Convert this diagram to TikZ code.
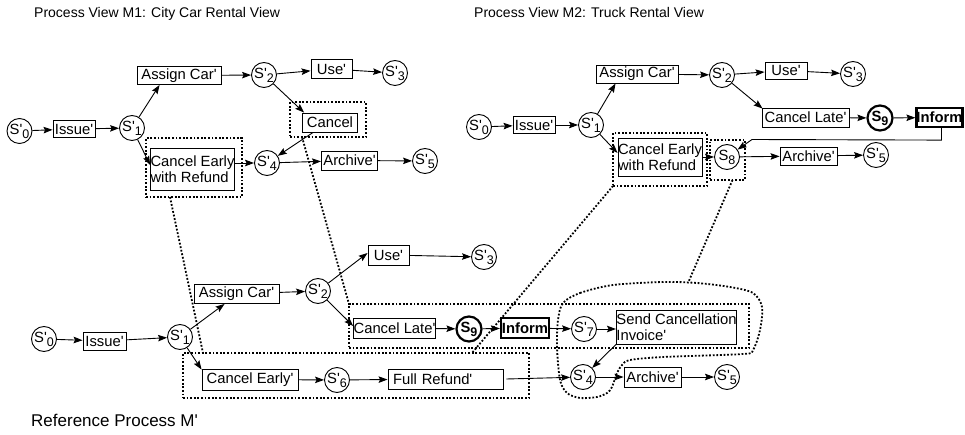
\documentclass[tikz,border=0pt]{standalone}
\usepackage{fontspec}
\setmainfont{Liberation Sans}[Ligatures=TeXOff]
\usetikzlibrary{arrows.meta,calc}

% state label: S, optional prime, lowered index
\newcommand\stname[2]{\makebox[0pt][c]{S#1\raisebox{-4pt}{\fontsize{12.5}{12.5}\selectfont#2}}}

\begin{document}
\begin{tikzpicture}[x=1pt,y=-1pt,
  lab/.style={font=\fontsize{14.8}{16}\selectfont},
  task/.style={draw, line width=0.9pt, inner sep=0pt, lab},
  state/.style={draw, circle, line width=0.9pt, minimum size=25pt, inner sep=0pt, lab},
  heavy/.style={line width=2.2pt},
  grpline/.style={line width=1.8pt, dash pattern=on 1.8pt off 1.8pt},
  grp/.style={grpline, draw, inner sep=0pt, outer sep=0pt},
  flow/.style={line width=0.9pt, -{Stealth[length=9pt,width=6.5pt,inset=1.5pt]}},
  title/.style={anchor=base west, inner sep=0pt, font=\fontsize{14}{16}\selectfont}]
\useasboundingbox (0,0) rectangle (965,435);

% headings
\node[title] (t1) at (34,18) {Process View M1: City Car Rental View};
\node[title] (t2) at (474,18) {Process View M2: Truck Rental View};
\node[title, font=\fontsize{17}{19}\selectfont] (t3) at (31,426) {Reference Process M'};

% ---------- dotted correspondence groups ----------
\node[grp, minimum width=76pt, minimum height=35pt] (m1gcancel) at (328,119.5) {};
\node[grp, minimum width=96pt, minimum height=59pt] (m1gcewr) at (194,167.5) {};
\node[grp, minimum width=94pt, minimum height=53pt] (m2gcewr) at (660,159.5) {};
\node[grp, minimum width=35pt, minimum height=40pt] (m2gs8) at (727.5,160) {};
\node[grp, minimum width=346pt, minimum height=45pt] (rglow) at (356,375.5) {};
\node[grp, minimum width=400pt, minimum height=44pt] (rgup) at (549,326) {};
\draw[grpline] plot[smooth cycle, tension=0.5] coordinates {(563,303) (580,293) (613,285) (663,282) (697,283) (730,287) (753,293) (762,307) (760,330) (753,350) (743,354) (663,357) (630,360) (622,365) (617,373) (612,387) (607,393) (597,397) (580,398) (567,393) (560,380) (557,347) (558,320)};
\coordinate (blobtop) at (688,283);

\draw[grpline] ($(m1gcewr.south west)+(24,0)$) -- ($(rglow.north west)+(20,0)$);
\draw[grpline] ($(m1gcancel.south west)+(12,0)$) -- (rgup.north west);
\draw[grpline] (m2gcewr.south west) -- ($(rglow.north east)+(-57,0)$);
\draw[grpline] ($(m2gs8.south)+(5,0)$) -- (blobtop);

% ---------- process view M1 ----------
\node[state] (m1s0) at (19.5,131) {\stname{'}{0}};
\node[task, minimum width=42pt, minimum height=17pt] (m1issue) at (74,129) {Issue'};
\node[state] (m1s1) at (132,128) {\stname{'}{1}};
\node[task, minimum width=84pt, minimum height=18pt] (m1assign) at (179,75.5) {Assign Car'};
\node[state] (m1s2) at (264,75) {\stname{'}{2}};
\node[task, minimum width=41pt, minimum height=19pt] (m1use) at (331.5,69) {Use'};
\node[state] (m1s3) at (395,73) {\stname{'}{3}};
\node[task, minimum width=55pt, minimum height=19pt] (m1cancel) at (330,122.5) {Cancel};
\node[task, minimum width=81pt, minimum height=42pt, align=left] (m1cewr) at (192.5,169) {Cancel Early\\with Refund};
\node[state] (m1s4) at (267,163) {\stname{'}{4}};
\node[task, minimum width=56pt, minimum height=19pt] (m1archive) at (349.5,160.5) {Archive'};
\node[state] (m1s5) at (425,161) {\stname{'}{5}};

\draw[flow] (m1s0) -- (m1issue);
\draw[flow] (m1issue) -- (m1s1);
\draw[flow] (m1s1) -- ($(m1assign.south west)+(23,0)$);
\draw[flow] (m1assign) -- (m1s2);
\draw[flow] (m1s2) -- (m1use);
\draw[flow] (m1use) -- (m1s3);
\draw[flow] (m1s2) -- ($(m1cancel.north west)+(2,0)$);
\draw[flow] (m1s1) -- ($(m1cewr.west)+(0,-4)$);
\draw[flow] (m1cewr.east |- m1s4) -- (m1s4);
\draw[flow] ($(m1cancel.south west)+(11,0)$) -- (m1s4);
\draw[flow] (m1s4) -- (m1archive);
\draw[flow] (m1archive) -- (m1s5);

% ---------- process view M2 ----------
\node[state] (m2s0) at (479,127) {\stname{'}{0}};
\node[task, minimum width=42pt, minimum height=17pt] (m2issue) at (534,125) {Issue'};
\node[state] (m2s1) at (591,125) {\stname{'}{1}};
\node[task, minimum width=82pt, minimum height=18pt] (m2assign) at (637,74) {Assign Car'};
\node[state] (m2s2) at (722,75) {\stname{'}{2}};
\node[task, minimum width=42pt, minimum height=17pt] (m2use) at (786,70.5) {Use'};
\node[state] (m2s3) at (853,74) {\stname{'}{3}};
\node[task, minimum width=87pt, minimum height=19pt] (m2late) at (805.5,117.5) {Cancel Late'};
\node[state, heavy] (m2s9) at (880,118) {\bfseries\stname{}{9}};
\node[task, heavy, minimum width=46pt, minimum height=19pt] (m2inform) at (939.5,117.5) {\bfseries Inform};
\node[task, minimum width=84pt, minimum height=38pt, align=left] (m2cewr) at (660,157) {Cancel Early\\with Refund};
\node[state] (m2s8) at (727,157) {\stname{}{8}};
\node[task, minimum width=57pt, minimum height=18pt] (m2archive) at (808.5,156) {Archive'};
\node[state] (m2s5) at (876,155) {\stname{'}{5}};
\coordinate (m2kink) at (752,139.5);

\draw[flow] (m2s0) -- (m2issue);
\draw[flow] (m2issue) -- (m2s1);
\draw[flow] (m2s1) -- ($(m2assign.south west)+(20,0)$);
\draw[flow] (m2assign) -- (m2s2);
\draw[flow] (m2s2) -- (m2use);
\draw[flow] (m2use) -- (m2s3);
\draw[flow] (m2s2) -- ($(m2late.north west)+(1,1)$);
\draw[flow] (m2late) -- (m2s9);
\draw[flow] (m2s9) -- (m2inform);
\draw[flow] (m2s1) -- ($(m2cewr.west)+(0,-4)$);
\draw[flow] (m2cewr.east |- m2s8) -- (m2s8);
\draw[flow] (m2s8) -- (m2archive);
\draw[flow] (m2archive) -- (m2s5);
\draw[flow] ($(m2inform.south)+(2,0)$) -- ++(0,12) -- (m2kink) -- (m2s8);

% ---------- reference process M' ----------
\node[state] (rs0) at (44,339) {\stname{'}{0}};
\node[task, minimum width=43pt, minimum height=18pt] (rissue) at (104.5,341) {Issue'};
\node[state] (rs1) at (180,337) {\stname{'}{1}};
\node[task, minimum width=85pt, minimum height=19pt] (rassign) at (236.5,294) {Assign Car'};
\node[state] (rs2) at (318,291) {\stname{'}{2}};
\node[task, minimum width=41pt, minimum height=20pt] (ruse) at (388.5,255) {Use'};
\node[state] (rs3) at (484,257) {\stname{'}{3}};
\node[task, minimum width=77pt, minimum height=20pt] (rlate) at (394.5,328) {Cancel Late'};
\node[state, heavy] (rs9) at (469,329) {\bfseries\stname{}{9}};
\node[task, heavy, minimum width=48pt, minimum height=20pt] (rinform) at (525,328) {\bfseries Inform};
\node[state] (rs7) at (584,329) {\stname{'}{7}};
\node[task, minimum width=117pt, minimum height=34pt, align=left] (rsend) at (676.5,327) {Send Cancellation\\Invoice'};
\node[task, minimum width=96pt, minimum height=21pt] (rcearly) at (250,379.5) {Cancel Early'};
\node[state] (rs6) at (337,380) {\stname{'}{6}};
\node[task, minimum height=20pt, text width=105pt, inner xsep=5pt, align=left] (rfull) at (445.5,379) {Full Refund'};
\node[state] (rs4) at (583,377) {\stname{'}{4}};
\node[task, minimum width=57pt, minimum height=20pt] (rarchive) at (652.5,377) {Archive'};
\node[state] (rs5) at (727,377) {\stname{'}{5}};

\draw[flow] (rs0) -- (rissue);
\draw[flow] (rissue) -- (rs1);
\draw[flow] (rs1) -- ($(rassign.south west)+(31,0)$);
\draw[flow] (rs1) -- ($(rcearly.north west)+(0,1)$);
\draw[flow] (rassign) -- (rs2);
\draw[flow] (rs2) -- ($(ruse.west)+(0,-2)$);
\draw[flow] (ruse) -- (rs3);
\draw[flow] (rs2) -- ($(rlate.west)+(0,-2)$);
\draw[flow] (rlate) -- (rs9);
\draw[flow] (rs9) -- (rinform);
\draw[flow] (rinform) -- (rs7);
\draw[flow] (rs7) -- (rsend.west |- rs7);
\draw[flow] (rsend.south west) -- (rs4);
\draw[flow] (rcearly) -- (rs6);
\draw[flow] (rs6) -- (rfull);
\draw[flow] ($(rfull.east)+(3,0)$) -- (rs4);
\draw[flow] (rs4) -- (rarchive);
\draw[flow] (rarchive) -- (rs5);
\end{tikzpicture}
\end{document}
